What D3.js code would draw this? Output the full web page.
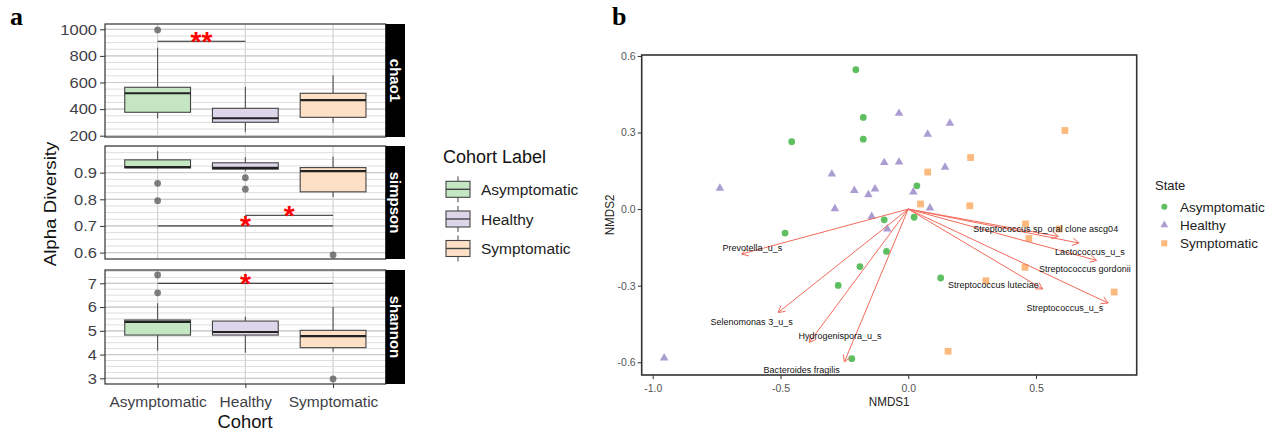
<!DOCTYPE html>
<html><head><meta charset="utf-8">
<script src="https://cdn.jsdelivr.net/npm/d3@7"></script>
<style>body{margin:0;background:#fff} svg{font-family:"Liberation Sans",Arial,sans-serif}</style>
</head><body><svg id="c" width="1266" height="431"></svg>
<script>
// ---------------- DATA ----------------
const cohorts = ["Asymptomatic", "Healthy", "Symptomatic"];
const metrics = ["chao1", "simpson", "shannon"];
// box stats: [lower whisker, Q1, median, Q3, upper whisker]
const chao1Box   = [[331, 376, 519, 564, 862], [230, 301, 331, 406, 568], [298, 338, 468, 519, 654]];
const chao1Out   = [[995], [], []];
const simpsonBox = [[0.915, 0.918, 0.921, 0.948, 0.981], [0.905, 0.913, 0.918, 0.937, 0.958], [0.808, 0.828, 0.906, 0.919, 0.960]];
const simpsonOut = [[0.860, 0.795], [0.881, 0.838], [0.591]];
const shannonBox = [[4.16, 4.82, 5.38, 5.455, 6.16], [4.08, 4.82, 4.95, 5.41, 5.59], [4.12, 4.29, 4.78, 5.02, 6.00]];
const shannonOut = [[7.35, 6.60], [], [2.97]];
const chao1Ticks = [200, 400, 600, 800, 1000];
const simpsonTicks = [0.6, 0.7, 0.8, 0.9];
const shannonTicks = [3, 4, 5, 6, 7];
// significance brackets
const sigMetric = ["chao1", "simpson", "simpson", "shannon"];
const sigFrom = [0, 0, 1, 0];
const sigTo = [1, 2, 2, 2];
const sigY = [910, 0.70, 0.74, 7.0];
const sigLabel = ["**", "*", "*", "*"];

// NMDS points
const asymX = [-0.205, -0.176, -0.176, -0.456, 0.034, -0.094, 0.023, -0.482, -0.085, -0.189, -0.274, -0.221, 0.127];
const asymY = [0.546, 0.359, 0.274, 0.264, 0.091, -0.042, -0.032, -0.094, -0.166, -0.225, -0.299, -0.586, -0.270];
const healthyX = [-0.737, -0.299, -0.287, -0.211, -0.156, -0.130, -0.094, -0.036, -0.036, 0.163, 0.076, 0.144, 0.020, 0.085, -0.143, -0.082, -0.955];
const healthyY = [0.082, 0.137, 0.001, 0.073, 0.056, 0.079, 0.182, 0.184, 0.375, 0.336, 0.293, 0.164, 0.067, 0.004, -0.029, -0.078, -0.583];
const sympX = [0.613, 0.244, 0.076, 0.048, 0.241, 0.459, 0.472, 0.591, 0.457, 0.304, 0.806, 0.156];
const sympY = [0.308, 0.202, 0.145, 0.020, 0.013, -0.058, -0.115, -0.078, -0.228, -0.281, -0.325, -0.557];
// fitted species vectors
const vecNames = ["Prevotella_u_s", "Selenomonas 3_u_s", "Hydrogenispora_u_s", "Bacteroides fragilis",
  "Streptococcus sp_oral clone ascg04", "Lactococcus_u_s", "Streptococcus gordonii", "Streptococcus luteciae", "Streptococcus_u_s"];
const vecX = [-0.652, -0.509, -0.387, -0.250, 0.587, 0.668, 0.737, 0.526, 0.782];
const vecY = [-0.176, -0.405, -0.522, -0.599, -0.107, -0.133, -0.201, -0.313, -0.368];
const vecLabX = [-0.610, -0.613, -0.267, -0.417, 0.538, 0.711, 0.691, 0.333, 0.613];
const vecLabY = [-0.153, -0.440, -0.496, -0.629, -0.078, -0.168, -0.235, -0.296, -0.387];
const nmdsTicks = [-1.0, -0.5, 0.0, 0.5];
const nmdsYTicks = [-0.6, -0.3, 0.0, 0.3, 0.6];
const stateNames = ["Asymptomatic", "Healthy", "Symptomatic"];

// ---------------- STYLE / LAYOUT ----------------
const boxFill = ["#c5e6c3", "#ddd6ea", "#fde0c5"];
const ptColor = ["#5dbf60", "#ab9dd2", "#fcb97d"];
const arrowCol = "#f26b5b";
const svg = d3.select("#c");

function stext(parent, x, y, str, size, sx, o = {}) {
  const t = parent.append("text")
    .attr("transform", `translate(${x},${y})` + (o.rot ? ` rotate(${o.rot})` : "") + ` scale(${sx},1)`)
    .attr("font-size", size).attr("text-anchor", o.anchor || "start")
    .attr("fill", o.fill || "#111").text(str);
  if (o.weight) t.attr("font-weight", o.weight);
  if (o.family) t.attr("font-family", o.family);
  if (o.dy) t.attr("dy", o.dy);
  return t;
}

// ================= PANEL A =================
const aLeft = 105, aRight = 385.7, stripR = 405;
const tops = [24, 146, 270], bottoms = [137, 259, 384];
const domains = { chao1: [190.2, 1039.8], simpson: [0.576, 1.0], shannon: [2.76, 7.56] };
const boxes = { chao1: chao1Box, simpson: simpsonBox, shannon: shannonBox };
const outs = { chao1: chao1Out, simpson: simpsonOut, shannon: shannonOut };
const ticks = { chao1: chao1Ticks, simpson: simpsonTicks, shannon: shannonTicks };
const gridStep = { chao1: 50, simpson: 0.025, shannon: 0.25 };
const fmt = { chao1: d3.format("d"), simpson: d3.format(".1f"), shannon: d3.format("d") };

const x = d3.scalePoint().domain(cohorts).range([aLeft, aRight]).padding(0.6);
const unit = x.step();
const bw = 0.75 * unit;

svg.append("text").attr("x", 10).attr("y", 25).attr("font-family", "Liberation Serif, Times New Roman, serif")
  .attr("font-weight", "bold").attr("font-size", 26).text("a");

metrics.forEach((m, mi) => {
  const y = d3.scaleLinear().domain(domains[m]).range([bottoms[mi], tops[mi]]);
  const g = svg.append("g");
  g.append("rect").attr("x", aLeft).attr("y", tops[mi]).attr("width", aRight - aLeft)
    .attr("height", bottoms[mi] - tops[mi]).attr("fill", "#fff");
  // minor grid
  const st = gridStep[m];
  const gv = d3.range(Math.ceil(domains[m][0] / st), Math.floor(domains[m][1] / st) + 1).map(k => k * st);
  g.selectAll(".mg").data(gv).join("line").attr("x1", aLeft).attr("x2", aRight)
    .attr("y1", d => y(d)).attr("y2", d => y(d)).attr("stroke", "#dedede").attr("stroke-width", 1);
  g.selectAll(".Mg").data(ticks[m]).join("line").attr("x1", aLeft).attr("x2", aRight)
    .attr("y1", d => y(d)).attr("y2", d => y(d)).attr("stroke", "#cacaca").attr("stroke-width", 1.2);
  g.selectAll(".vg").data(cohorts).join("line").attr("x1", d => x(d)).attr("x2", d => x(d))
    .attr("y1", tops[mi]).attr("y2", bottoms[mi]).attr("stroke", "#d2d2d2").attr("stroke-width", 1.2);
  // boxes
  boxes[m].forEach((b, ci) => {
    const cx = x(cohorts[ci]);
    g.append("line").attr("x1", cx).attr("x2", cx).attr("y1", y(b[0])).attr("y2", y(b[1])).attr("stroke", "#444");
    g.append("line").attr("x1", cx).attr("x2", cx).attr("y1", y(b[3])).attr("y2", y(b[4])).attr("stroke", "#444");
    g.append("rect").attr("x", cx - bw / 2).attr("width", bw).attr("y", y(b[3])).attr("height", y(b[1]) - y(b[3]))
      .attr("fill", boxFill[ci]).attr("stroke", "#444").attr("stroke-width", 1.1);
    g.append("line").attr("x1", cx - bw / 2).attr("x2", cx + bw / 2).attr("y1", y(b[2])).attr("y2", y(b[2]))
      .attr("stroke", "#222").attr("stroke-width", 2.2);
    outs[m][ci].forEach(v => g.append("circle").attr("cx", cx).attr("cy", y(v)).attr("r", 3.4)
      .attr("fill", "#555").attr("fill-opacity", 0.75));
  });
  // significance
  sigMetric.forEach((sm, si) => {
    if (sm !== m) return;
    const x1 = x(cohorts[sigFrom[si]]), x2 = x(cohorts[sigTo[si]]);
    g.append("line").attr("x1", x1).attr("x2", x2).attr("y1", y(sigY[si])).attr("y2", y(sigY[si]))
      .attr("stroke", "#222").attr("stroke-width", 1);
    g.append("text").attr("x", (x1 + x2) / 2).attr("y", y(sigY[si]) + 9.5).attr("text-anchor", "middle")
      .attr("font-size", 28).attr("font-weight", "bold").attr("fill", "#ff0000").text(sigLabel[si]);
  });
  // border
  g.append("rect").attr("x", aLeft).attr("y", tops[mi]).attr("width", aRight - aLeft)
    .attr("height", bottoms[mi] - tops[mi]).attr("fill", "none").attr("stroke", "#333").attr("stroke-width", 1.2);
  // strip
  g.append("rect").attr("x", aRight).attr("y", tops[mi]).attr("width", stripR - aRight)
    .attr("height", bottoms[mi] - tops[mi]).attr("fill", "#000");
  stext(g, (aRight + stripR) / 2, (tops[mi] + bottoms[mi]) / 2, m, 15, 1,
    { rot: 90, anchor: "middle", fill: "#fff", weight: "bold", dy: "0.35em" });
  // y axis
  const ax = g.append("g").attr("transform", `translate(${aLeft},0)`)
    .call(d3.axisLeft(y).tickValues(ticks[m]).tickFormat(fmt[m]).tickSize(5).tickPadding(3));
  ax.select(".domain").remove();
  ax.selectAll(".tick line").attr("stroke", "#333");
  ax.selectAll(".tick text").attr("font-size", 15).attr("fill", "#3f3f48").attr("font-family", null)
    .attr("x", -8 / 1.1).attr("transform", "scale(1.1,1)");
  if (mi === 2) {
    const bx = g.append("g").attr("transform", `translate(0,${bottoms[mi]})`)
      .call(d3.axisBottom(x).tickSize(4).tickPadding(3));
    bx.select(".domain").remove();
    bx.selectAll(".tick line").attr("stroke", "#333");
    bx.selectAll(".tick text").attr("font-size", 15.5).attr("fill", "#3f3f48").attr("font-family", null)
      .attr("y", 22.7).attr("dy", 0);
  }
});
stext(svg, 245, 428, "Cohort", 18, 1.02, { anchor: "middle" });
stext(svg, 55.5, 204, "Alpha Diversity", 17, 1.1, { rot: -90, anchor: "middle" });

// legend A
const legA = svg.append("g");
stext(legA, 443, 163.2, "Cohort Label", 18, 1);
const keyY = [189.3, 219, 248.5];
cohorts.forEach((c, i) => {
  const cy = keyY[i], kx = 446, kw = 24;
  legA.append("line").attr("x1", kx + kw / 2).attr("x2", kx + kw / 2).attr("y1", cy - 13).attr("y2", cy + 13).attr("stroke", "#444");
  legA.append("rect").attr("x", kx).attr("y", cy - 8).attr("width", kw).attr("height", 16)
    .attr("fill", boxFill[i]).attr("stroke", "#444").attr("stroke-width", 1.1);
  legA.append("line").attr("x1", kx).attr("x2", kx + kw).attr("y1", cy).attr("y2", cy).attr("stroke", "#444").attr("stroke-width", 1.4);
  stext(legA, 481, cy + 5.6, c, 15.5, 1, { fill: "#222" });
});

// ================= PANEL B =================
svg.append("text").attr("x", 612).attr("y", 25).attr("font-family", "Liberation Serif, Times New Roman, serif")
  .attr("font-weight", "bold").attr("font-size", 26).text("b");
const bL = 641.7, bR = 1136.7, bT = 55, bB = 375;
const nx = d3.scaleLinear().domain([-1.043, 0.894]).range([bL, bR]);
const ny = d3.scaleLinear().domain([-0.65, 0.6037]).range([bB, bT]);
const gb = svg.append("g");
gb.append("rect").attr("x", bL).attr("y", bT).attr("width", bR - bL).attr("height", bB - bT).attr("fill", "#fff");

const groups = [[asymX, asymY, d3.symbolCircle, 36], [healthyX, healthyY, d3.symbolTriangle, 32], [sympX, sympY, d3.symbolSquare, 46]];
groups.forEach(([xs, ys, sym, sz], gi) => {
  gb.selectAll(null).data(xs.map((v, i) => [v, ys[i]])).join("path")
    .attr("transform", d => `translate(${nx(d[0])},${ny(d[1])})`)
    .attr("d", d3.symbol(sym, sz)).attr("fill", ptColor[gi]);
});
// arrows
const ox = nx(0), oy = ny(0);
vecNames.forEach((n, i) => {
  const ex = nx(vecX[i]), ey = ny(vecY[i]);
  gb.append("line").attr("x1", ox).attr("y1", oy).attr("x2", ex).attr("y2", ey).attr("stroke", arrowCol).attr("stroke-width", 1);
  const ang = Math.atan2(ey - oy, ex - ox), L = 7.5, a = Math.PI / 6;
  [ang + Math.PI - a, ang + Math.PI + a].forEach(t => {
    gb.append("line").attr("x1", ex).attr("y1", ey).attr("x2", ex + L * Math.cos(t)).attr("y2", ey + L * Math.sin(t))
      .attr("stroke", arrowCol).attr("stroke-width", 1);
  });
});
vecNames.forEach((n, i) => {
  stext(gb, nx(vecLabX[i]), ny(vecLabY[i]) + 3.3, n, 9.3, 0.97, { anchor: "middle", fill: "#111" });
});
gb.append("rect").attr("x", bL).attr("y", bT).attr("width", bR - bL).attr("height", bB - bT)
  .attr("fill", "none").attr("stroke", "#333").attr("stroke-width", 1.6);
const bxAx = gb.append("g").attr("transform", `translate(0,${bB})`)
  .call(d3.axisBottom(nx).tickValues(nmdsTicks).tickFormat(d => d.toFixed(1)).tickSize(4).tickPadding(2));
bxAx.select(".domain").remove();
bxAx.selectAll(".tick line").attr("stroke", "#333");
bxAx.selectAll(".tick text").attr("font-size", 10.5).attr("fill", "#555").attr("font-family", null).attr("y", 17).attr("dy", 0);
const byAx = gb.append("g").attr("transform", `translate(${bL},0)`)
  .call(d3.axisLeft(ny).tickValues(nmdsYTicks).tickFormat(d => d.toFixed(1)).tickSize(4).tickPadding(2));
byAx.select(".domain").remove();
byAx.selectAll(".tick line").attr("stroke", "#333");
byAx.selectAll(".tick text").attr("font-size", 10.5).attr("fill", "#555").attr("font-family", null);
stext(svg, (bL + bR) / 2, 406, "NMDS1", 12.5, 0.93, { anchor: "middle", fill: "#222" });
stext(svg, 614, (bT + bB) / 2, "NMDS2", 12.5, 0.93, { rot: -90, anchor: "middle", fill: "#222" });

// legend B
const legB = svg.append("g");
stext(legB, 1155, 189.7, "State", 13, 1, { fill: "#222" });
const lbY = [206.7, 225, 243.3];
stateNames.forEach((s, i) => {
  legB.append("path").attr("transform", `translate(1164.3,${lbY[i]})`)
    .attr("d", d3.symbol(groups[i][2], groups[i][3] * 0.8)).attr("fill", ptColor[i]);
  stext(legB, 1180, lbY[i] + 4.9, s, 13.5, 1, { fill: "#222" });
});
</script></body></html>
